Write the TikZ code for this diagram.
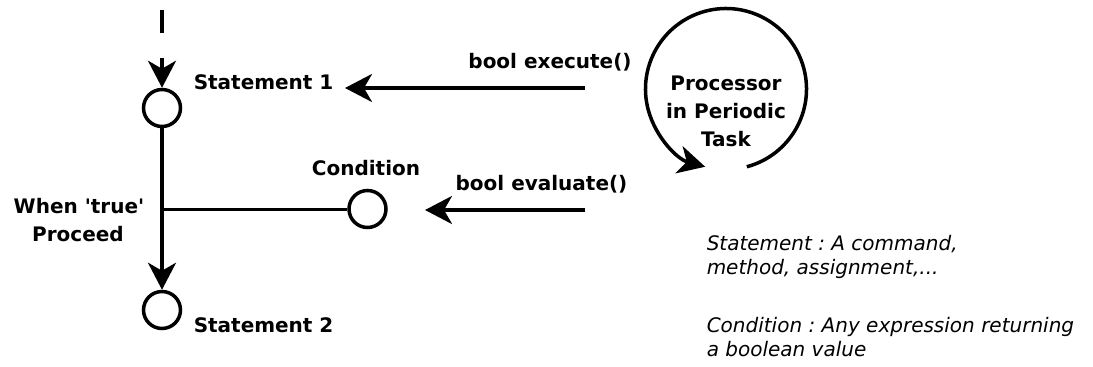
\documentclass[tikz,border=0pt]{standalone}
\usepackage{fontspec}
\setmainfont{DejaVu Sans}
\usetikzlibrary{arrows.meta}
\frenchspacing
\newcommand\straightq{\XeTeXglyph\the\XeTeXcharglyph"27\relax}
\begin{document}
\begin{tikzpicture}[x=1pt,y=-1pt,
  line width=3.5pt,
  state/.style={draw,circle,line width=3.5pt,minimum size=37pt,inner sep=0pt},
  lbl/.style={font=\fontsize{20}{28.5}\selectfont\bfseries,inner sep=0pt},
  note/.style={font=\fontsize{20}{24}\selectfont\itshape,inner sep=0pt,align=left},
  tip/.style={-{Stealth[length=27pt,width=28pt,inset=8pt]}},
]
\useasboundingbox (0,0) rectangle (1093,367);
% nodes
\node[state] (s1) at (162,108) {};
\node[state] (s2) at (162,310) {};
\node[state] (cond) at (367.5,209) {};
\coordinate (top) at (162,10);
\coordinate (branch) at (162,209);
\coordinate (exeS) at (585,88);
\coordinate (exeE) at (345,88);
\coordinate (evaS) at (585,210);
\coordinate (evaE) at (425,210);
% labels
\node[lbl,anchor=base west] (s1l) at (192,89) {Statement 1};
\node[lbl,anchor=base west] (s2l) at (192,332) {Statement 2};
\node[lbl,anchor=base] (condl) at (366,175) {Condition};
\node[lbl,anchor=base] (wt) at (79,213) {When \straightq true\straightq};
\node[lbl,anchor=base] (pr) at (78,241.5) {Proceed};
\node[lbl,anchor=base] (exel) at (550,68) {bool execute()};
\node[lbl,anchor=base] (eval) at (541.5,190) {bool evaluate()};
\node[lbl,anchor=base] (p1) at (726,90) {Processor};
\node[lbl,anchor=base] (p2) at (726,118) {in Periodic};
\node[lbl,anchor=base] (p3) at (726,146.5) {Task};
\node[note,anchor=base west] (n1) at (705,250) {Statement : A command,};
\node[note,anchor=base west] (n2) at (705,274) {method, assignment,...};
\node[note,anchor=base west] (n3) at (705,332) {Condition : Any expression returning};
\node[note,anchor=base west] (n4) at (705,356.5) {a boolean value};
% connectors
\draw[tip,dash pattern=on 23pt off 25pt] (top) -- (s1.north);
\draw[tip] (s1.south) -- (s2.north);
\draw[line width=3pt] (branch) -- (cond.west);
\draw[tip] (exeS) -- (exeE);
\draw[tip] (evaS) -- (evaE);
\draw[tip] ([shift={(75:80.5)}]726,89) arc[start angle=75,end angle=-255,radius=80.5];
\end{tikzpicture}
\end{document}
